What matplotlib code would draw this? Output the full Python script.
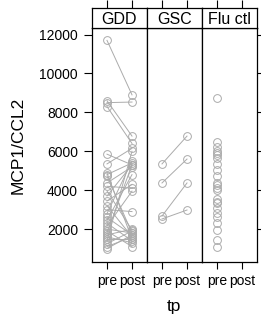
import matplotlib
matplotlib.use("Agg")
import matplotlib.pyplot as plt

plt.rcParams['font.family'] = ['Liberation Sans', 'DejaVu Sans']

panels = ['GDD', 'GSC', 'Flu ctl']
levels = ['pre', 'post']

# GDD paired values (pre -> post)
gdd_pre = [11700, 8600, 8500, 8300, 5850, 5350, 4880, 4800, 4730, 4370, 4200, 3960,
           3700, 3440, 3200, 3000, 2800, 2600, 2450, 2300, 2150, 2000, 1900, 1800,
           1700, 1600, 1500, 1400, 1250, 1100, 1000]
gdd_post = [8900, 6780, 8530, 6400, 5300, 6150, 1500, 5400, 1800, 5200, 4100, 1950,
            5300, 4300, 1600, 2900, 5500, 1700, 4800, 1400, 3950, 1800, 1100, 5300,
            2000, 1300, 1500, 6000, 1900, 1600, 1700]

# GSC paired values
gsc_pre = [5350, 4370, 2670, 2520]
gsc_post = [6780, 5600, 4370, 2980]

# Flu ctl: pre only
flu_pre = [8720, 6490, 6230, 6030, 5930, 5810, 5640, 5350, 5040, 4730, 4350, 4270,
           4100, 4010, 3530, 3410, 3330, 3070, 2810, 2610, 2330, 1950, 1440, 1100]

yticks = [2000, 4000, 6000, 8000, 10000, 12000]
gray = '#ababab'

W, H = 261, 322
fig = plt.figure(figsize=(W / 100, H / 100), dpi=100)

left0, pw = 92, 55
top, bot = 28, 262
strip_top = 8


def frac(x0, y0, x1, y1):
    return [x0 / W, (H - y1) / H, (x1 - x0) / W, (y1 - y0) / H]


data = {
    'GDD': (gdd_pre, gdd_post),
    'GSC': (gsc_pre, gsc_post),
    'Flu ctl': (flu_pre, None),
}

for i, name in enumerate(panels):
    x0 = left0 + i * pw
    ax = fig.add_axes(frac(x0, top, x0 + pw, bot))
    pre, post = data[name]
    if post is not None:
        for a, b in zip(pre, post):
            ax.plot([1, 2], [a, b], color=gray, lw=0.7, zorder=1)
        ax.plot([2] * len(post), post, 'o', mfc='none', mec=gray, ms=5.6, mew=0.7, zorder=2)
    ax.plot([1] * len(pre), pre, 'o', mfc='none', mec=gray, ms=5.6, mew=0.7, zorder=3)
    ax.set_xlim(0.4, 2.6)
    ax.set_ylim(308, 12336)
    ax.set_xticks([1, 2])
    ax.set_xticklabels(levels, fontsize=10)
    ax.tick_params(axis='x', length=5, width=0.8, pad=4, direction='out')
    ax.set_yticks(yticks)
    if i == 0:
        ax.set_yticklabels([str(t) for t in yticks], fontsize=10)
        ax.tick_params(axis='y', left=True, right=False, length=6, width=0.8, pad=4, direction='out')
    elif i == 2:
        ax.tick_params(axis='y', left=False, right=True, labelleft=False, length=5, width=0.8, direction='out')
    else:
        ax.tick_params(axis='y', left=False, labelleft=False)
    for s in ax.spines.values():
        s.set_linewidth(0.9)

    st = fig.add_axes(frac(x0, strip_top, x0 + pw, top))
    st.set_xlim(0.4, 2.6)
    st.set_ylim(0, 1)
    st.set_yticks([])
    st.set_xticks([1, 2])
    st.xaxis.tick_top()
    st.tick_params(axis='x', length=6, width=0.8, labeltop=False, direction='out')
    st.text(1.5, 0.45, name, ha='center', va='center', fontsize=11.5)
    for s in st.spines.values():
        s.set_linewidth(0.9)

fig.text(18 / W, 1 - 145 / H, 'MCP1/CCL2', rotation=90, ha='center', va='center', fontsize=12.5)
fig.text(174 / W, 1 - 307 / H, 'tp', ha='center', va='center', fontsize=12.5)

fig.savefig('out.png', dpi=100)
